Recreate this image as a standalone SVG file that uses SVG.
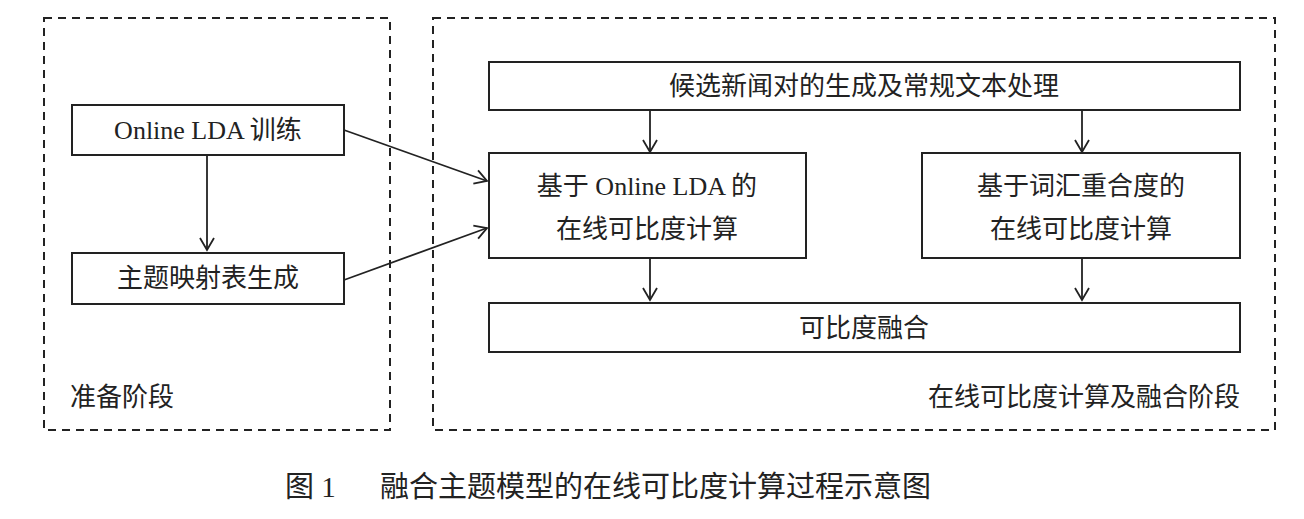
<svg xmlns="http://www.w3.org/2000/svg" width="1304" height="519" viewBox="0 0 1304 519">
<style>
.d{fill:none;stroke:#222;stroke-width:2;stroke-dasharray:8 6}
.b{fill:#fff;stroke:#222;stroke-width:2}
.t{font-family:"Liberation Serif","Noto Sans CJK SC",serif;font-size:26px;fill:#222;text-anchor:middle}
.l{font-family:"Liberation Serif","Noto Sans CJK SC",serif;font-size:26px;fill:#222}
.c{stroke:#222;stroke-width:1.8;fill:none;marker-end:url(#a)}
</style>
<defs><marker id="a" markerWidth="16" markerHeight="16" refX="14" refY="8" orient="auto" markerUnits="userSpaceOnUse"><path d="M2,1 L14,8 L2,15" fill="none" stroke="#222" stroke-width="1.8"/></marker></defs>
<rect width="1304" height="519" fill="#fff"/>
<rect class="d" x="44" y="18" width="346" height="412"/>
<rect class="d" x="433" y="18" width="842" height="412"/>
<text class="l" x="70" y="406">准备阶段</text>
<text class="l" x="1240" y="406" text-anchor="end">在线可比度计算及融合阶段</text>
<g id="connectors">
<path class="c" d="M207,155 V250"/>
<path class="c" d="M344,130 L487,181"/>
<path class="c" d="M344,280 L487,228"/>
<path class="c" d="M650,110 V152"/>
<path class="c" d="M1082,110 V152"/>
<path class="c" d="M650,258 V300"/>
<path class="c" d="M1082,258 V300"/>
</g>
<g id="n1"><rect class="b" x="72" y="105" width="272" height="50"/><text class="t" x="208" y="139">Online LDA 训练</text></g>
<g id="n2"><rect class="b" x="72" y="253" width="272" height="51"/><text class="t" x="208" y="287">主题映射表生成</text></g>
<g id="n3"><rect class="b" x="489" y="62" width="751" height="48"/><text class="t" x="864" y="95">候选新闻对的生成及常规文本处理</text></g>
<g id="n4"><rect class="b" x="489" y="153" width="317" height="105"/><text class="t" x="647" y="195">基于 Online LDA 的</text><text class="t" x="647" y="238">在线可比度计算</text></g>
<g id="n5"><rect class="b" x="922" y="153" width="318" height="105"/><text class="t" x="1081" y="195">基于词汇重合度的</text><text class="t" x="1081" y="238">在线可比度计算</text></g>
<g id="n6"><rect class="b" x="489" y="303" width="751" height="49"/><text class="t" x="864" y="337">可比度融合</text></g>
<text class="l" x="285" y="497" font-size="29" style="font-size:29px">图 1<tspan x="380">融合主题模型的在线可比度计算过程示意图</tspan></text>
</svg>
